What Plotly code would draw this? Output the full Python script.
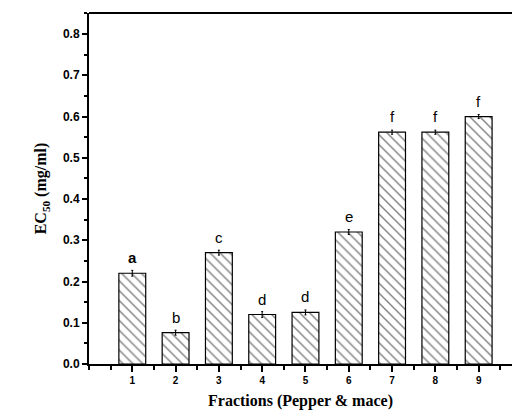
import plotly.graph_objects as go

fractions = [1, 2, 3, 4, 5, 6, 7, 8, 9]
ec50 = [0.22, 0.076, 0.27, 0.12, 0.125, 0.32, 0.562, 0.562, 0.600]
errors = [0.007, 0.006, 0.006, 0.007, 0.006, 0.006, 0.005, 0.005, 0.005]
letters = ["a", "b", "c", "d", "d", "e", "f", "f", "f"]
y_ticks = [0.0, 0.1, 0.2, 0.3, 0.4, 0.5, 0.6, 0.7, 0.8]

fig = go.Figure()
fig.add_trace(go.Bar(
    x=fractions, y=ec50, width=0.62,
    marker=dict(color="white", line=dict(color="black", width=1.2),
                pattern=dict(shape="\\", fgcolor="black", bgcolor="white",
                             size=7, solidity=0.2, fillmode="overlay")),
    error_y=dict(type="data", array=errors, visible=True, color="black",
                 thickness=1, width=1),
    showlegend=False,
))

for xv, yv, lab in zip(fractions, ec50, letters):
    fig.add_annotation(x=xv, y=yv, text=("<b>%s</b>" % lab) if lab == "a" else lab,
                       showarrow=False, yanchor="bottom", yshift=5,
                       font=dict(family="Liberation Sans", size=15, color="black"))

fig.add_shape(type="line", xref="paper", yref="paper", x0=0, x1=1, y0=1, y1=1,
              line=dict(color="black", width=2))

fig.update_layout(
    width=514, height=416,
    margin=dict(l=89, r=2, t=13, b=52, pad=0),
    plot_bgcolor="white", paper_bgcolor="white",
    xaxis=dict(
        range=[0, 9.77], tickmode="array",
        tickvals=fractions, ticktext=[str(f) for f in fractions],
        ticks="outside", ticklen=6, tickwidth=2, tickcolor="black",
        showline=True, linecolor="black", linewidth=2, showgrid=False, zeroline=False,
        tickfont=dict(family="Liberation Sans", size=10, color="black", weight="bold"),
        minor=dict(dtick=0.5, tick0=0, ticks="outside", ticklen=4, tickwidth=2, tickcolor="black"),
        title=dict(text="Fractions (Pepper & mace)", standoff=10,
                   font=dict(family="Liberation Serif", size=16, color="black", weight="bold")),
    ),
    yaxis=dict(
        range=[0, 0.851], tickmode="array", tickvals=y_ticks,
        ticktext=["%.1f" % v for v in y_ticks],
        ticks="outside", ticklen=5, tickwidth=2, tickcolor="black",
        showline=True, linecolor="black", linewidth=2, showgrid=False, zeroline=False,
        tickfont=dict(family="Liberation Sans", size=12, color="black", weight="bold"),
        minor=dict(dtick=0.05, tick0=0, ticks="outside", ticklen=3, tickwidth=1.5, tickcolor="black"),
        title=dict(text="EC<sub>50</sub> (mg/ml)", standoff=12,
                   font=dict(family="Liberation Serif", size=16, color="black", weight="bold")),
    ),
)

fig.write_html("out.html", config={"displayModeBar": False})
